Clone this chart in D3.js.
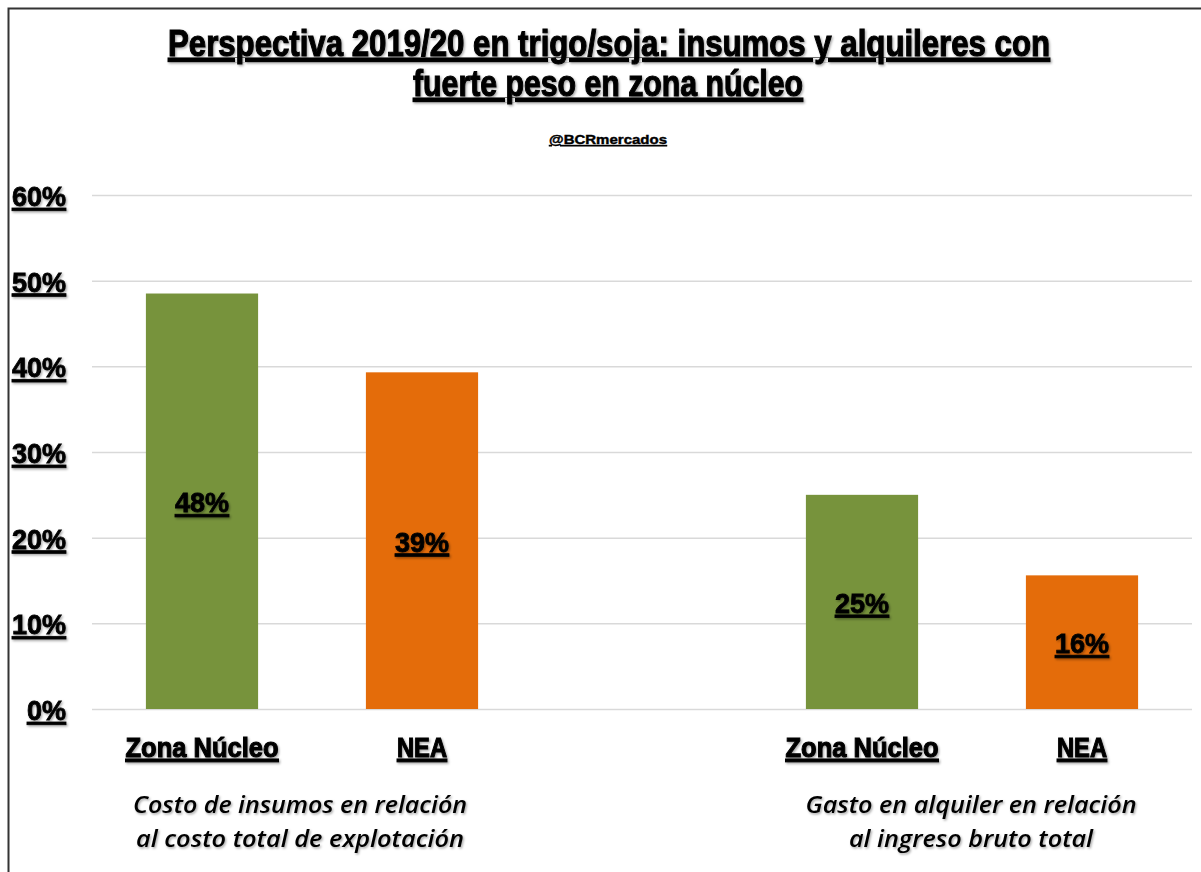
<!doctype html>
<html>
<head>
<meta charset="UTF-8">
<script src="https://cdnjs.cloudflare.com/ajax/libs/d3/7.8.5/d3.min.js"></script>
<style>
  body { margin: 0; background: #fff; }
  svg { display: block; }
</style>
</head>
<body>
<div id="graphic"></div>
<script>
// data
var slots = ["zn-insumos", "nea-insumos", "gap", "zn-alquiler", "nea-alquiler"];
var slotLabels = ["Zona Núcleo", "NEA", "", "Zona Núcleo", "NEA"];
var values = [0.485, 0.393, null, 0.25, 0.156];
var valueLabels = ["48%", "39%", "", "25%", "16%"];
var slotColors = ["#77933c", "#e46c0a", null, "#77933c", "#e46c0a"];
var yTicks = [0, 0.1, 0.2, 0.3, 0.4, 0.5, 0.6];
var titleLines = ["Perspectiva 2019/20 en trigo/soja: insumos y alquileres con", "fuerte peso en zona núcleo"];
var subtitle = "@BCRmercados";
var captions = [
  ["Costo de insumos en relación", "al costo total de explotación"],
  ["Gasto en alquiler en relación", "al ingreso bruto total"]
];

var W = 1201, H = 872;
var svg = d3.select("#graphic").append("svg")
  .attr("width", W).attr("height", H);

// soft shadow like the spreadsheet text effect
var defs = svg.append("defs");
var f = defs.append("filter").attr("id", "shadow")
  .attr("x", "-10%").attr("y", "-20%").attr("width", "130%").attr("height", "160%");
f.append("feDropShadow").attr("dx", 1.2).attr("dy", 1.5).attr("stdDeviation", 0.8)
  .attr("flood-color", "#000").attr("flood-opacity", 0.35);

// frame
svg.append("path")
  .attr("d", "M8.5," + H + "V8.5H" + W)
  .attr("fill", "none").attr("stroke", "#333").attr("stroke-width", 2);

var heavy = "'Liberation Sans Narrow', 'Liberation Sans', Arial, sans-serif";
var boldFont = "'Liberation Sans', Arial, sans-serif";

function heavyText(sel, size, len) {
  sel.attr("text-anchor", "middle")
    .attr("textLength", len).attr("lengthAdjust", "spacingAndGlyphs")
    .style("font-family", heavy).style("font-weight", "bold").style("font-size", size + "px")
    .style("stroke", "#000").style("stroke-width", size > 20 ? 1.1 : 0.4)
    .style("text-decoration", "underline");
  return sel;
}

// title
svg.append("text").attr("x", 609).attr("y", 56)
  .call(heavyText, 36, 882).attr("filter", "url(#shadow)")
  .text(titleLines[0]);
svg.append("text").attr("x", 608).attr("y", 96)
  .call(heavyText, 36, 390).attr("filter", "url(#shadow)")
  .text(titleLines[1]);
svg.append("text").attr("x", 608).attr("y", 144)
  .call(heavyText, 12, 118)
  .text(subtitle);

// scales
var x = d3.scaleBand().domain(slots).range([92, 1192]).paddingInner(0.49).paddingOuter(0.245);
var y = d3.scaleLinear().domain([0, 0.6]).range([709, 195]);

// grid
svg.append("g")
  .attr("transform", "translate(92,0)")
  .call(d3.axisLeft(y).tickValues(yTicks).tickSize(-1100).tickFormat(""))
  .call(g => g.select(".domain").remove())
  .call(g => g.selectAll(".tick line").attr("stroke", "#d9d9d9").attr("stroke-width", 1.5));

// y labels
svg.append("g").selectAll("text")
  .data(yTicks).enter().append("text")
  .attr("x", 66).attr("y", d => y(d) + 11)
  .attr("text-anchor", "end")
  .style("font-family", boldFont).style("font-weight", "bold").style("font-size", "27px")
  .style("stroke", "#000").style("stroke-width", 0.8)
  .style("text-decoration", "underline").attr("filter", "url(#shadow)")
  .text(d => d3.format(".0%")(d));

// bars
var barData = slots.map((s, i) => ({slot: s, value: values[i], label: valueLabels[i], color: slotColors[i], name: slotLabels[i]}));

svg.append("g").selectAll("rect")
  .data(barData.filter(d => d.value != null)).enter().append("rect")
  .attr("x", d => x(d.slot)).attr("width", x.bandwidth())
  .attr("y", d => y(d.value)).attr("height", d => y(0) - y(d.value))
  .attr("fill", d => d.color);

// value labels
svg.append("g").selectAll("text")
  .data(barData.filter(d => d.value != null)).enter().append("text")
  .attr("x", d => x(d.slot) + x.bandwidth() / 2)
  .attr("y", d => (y(d.value) + y(0)) / 2 + 11)
  .attr("text-anchor", "middle")
  .style("font-family", boldFont).style("font-weight", "bold").style("font-size", "27px")
  .style("stroke", "#000").style("stroke-width", 0.8)
  .style("text-decoration", "underline").attr("filter", "url(#shadow)")
  .text(d => d.label);

// category labels
svg.append("g").selectAll("text")
  .data(barData.filter(d => d.name)).enter().append("text")
  .attr("x", d => x(d.slot) + x.bandwidth() / 2)
  .attr("y", 757)
  .each(function(d) { d3.select(this).call(heavyText, 28, d.name.length > 3 ? 153 : 50); })
  .attr("filter", "url(#shadow)")
  .text(d => d.name);

// group captions
var captionX = [300, 971];
var captionLen = [[334, 328], [331, 244]];
var capFont = "'Open Sans', 'Noto Sans', sans-serif";
captions.forEach(function(lines, i) {
  lines.forEach(function(line, j) {
    svg.append("text")
      .attr("x", captionX[i]).attr("y", 813 + j * 34)
      .attr("text-anchor", "middle")
      .attr("textLength", captionLen[i][j]).attr("lengthAdjust", "spacingAndGlyphs")
      .style("font-family", capFont).style("font-style", "italic").style("font-weight", 600)
      .style("font-size", "23px").attr("filter", "url(#shadow)")
      .text(line);
  });
});
</script>
</body>
</html>
